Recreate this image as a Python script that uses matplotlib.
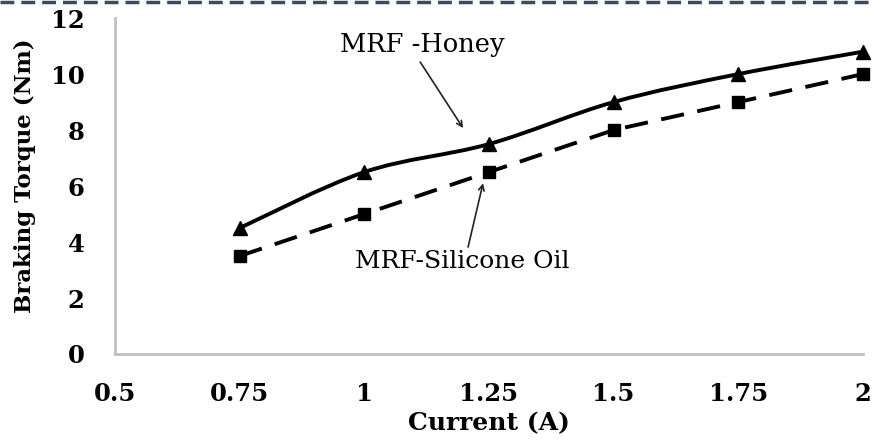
import numpy as np
import matplotlib
matplotlib.use("Agg")
import matplotlib.pyplot as plt
from matplotlib.path import Path
from matplotlib.patches import PathPatch
from matplotlib.lines import Line2D

# data
current = [0.75, 1.0, 1.25, 1.5, 1.75, 2.0]
honey = [4.5, 6.5, 7.5, 9.0, 10.0, 10.8]
silicone = [3.5, 5.0, 6.5, 8.0, 9.0, 10.0]
xticks = [0.5, 0.75, 1, 1.25, 1.5, 1.75, 2]
xtick_labels = ["0.5", "0.75", "1", "1.25", "1.5", "1.75", "2"]
yticks = [0, 2, 4, 6, 8, 10, 12]


def smooth_path(x, y):
    # excel style smoothed line: cubic bezier through the points
    x = np.asarray(x, float)
    y = np.asarray(y, float)
    verts = [(x[0], y[0])]
    codes = [Path.MOVETO]
    n = len(x)
    for i in range(n - 1):
        i0 = max(i - 1, 0)
        i3 = min(i + 2, n - 1)
        c1 = (x[i] + (x[i + 1] - x[i0]) / 6, y[i] + (y[i + 1] - y[i0]) / 6)
        c2 = (x[i + 1] - (x[i3] - x[i]) / 6, y[i + 1] - (y[i3] - y[i]) / 6)
        verts += [c1, c2, (x[i + 1], y[i + 1])]
        codes += [Path.CURVE4] * 3
    return Path(verts, codes)


fig = plt.figure(figsize=(8.72, 4.41), dpi=100)
ax = fig.add_axes([0.1319, 0.1973, 0.8578, 0.7617])

ax.add_patch(PathPatch(smooth_path(current, honey), fill=False, lw=2.8,
                       color="black", clip_on=False))
ax.plot(current, honey, ls="none", marker="^", ms=10, color="black", clip_on=False)
ax.plot(current, silicone, ls=(0, (6, 3.5)), lw=2.8, marker="s", ms=9,
        color="black", clip_on=False)

ax.set_xlim(0.5, 2)
ax.set_ylim(0, 12)
ax.set_xticks(xticks)
ax.set_xticklabels(xtick_labels)
ax.set_yticks(yticks)

for s in ["top", "right"]:
    ax.spines[s].set_visible(False)
for s in ["left", "bottom"]:
    ax.spines[s].set_color("#c0c0c0")
    ax.spines[s].set_linewidth(2)

ax.tick_params(length=0)
ax.tick_params(axis="y", pad=22)
ax.tick_params(axis="x", pad=20)
for lab in ax.get_xticklabels() + ax.get_yticklabels():
    lab.set_fontfamily("DejaVu Serif")
    lab.set_fontweight("bold")
    lab.set_fontsize(17.5)

ax.set_xlabel("Current (A)", family="DejaVu Serif", weight="bold", fontsize=18)
ax.xaxis.set_label_coords(0.5, -0.17)
ax.set_ylabel("Braking Torque (Nm)", family="DejaVu Serif", weight="bold", fontsize=16.5)
ax.yaxis.set_label_coords(-0.105, 0.53)

txt = dict(family="DejaVu Serif", ha="center", va="center")
arrow = dict(arrowstyle="->", color="#222222", lw=1.2, shrinkA=0, shrinkB=0)

ax.text(1.116, 11.04, "MRF -Honey", fontsize=18.5, **txt)
ax.annotate("", xy=(1.198, 8.07), xytext=(1.112, 10.43), arrowprops=arrow)

ax.text(1.196, 3.29, "MRF-Silicone Oil", fontsize=18, **txt)
ax.annotate("", xy=(1.238, 6.1), xytext=(1.208, 3.82), arrowprops=arrow)

# dashed border along the top of the image
fig.add_artist(Line2D([0, 1], [0.996, 0.996], transform=fig.transFigure,
                      color="#3f4a5c", lw=2.5, ls=(0, (4, 2))))

fig.savefig("out.png", dpi=100)
